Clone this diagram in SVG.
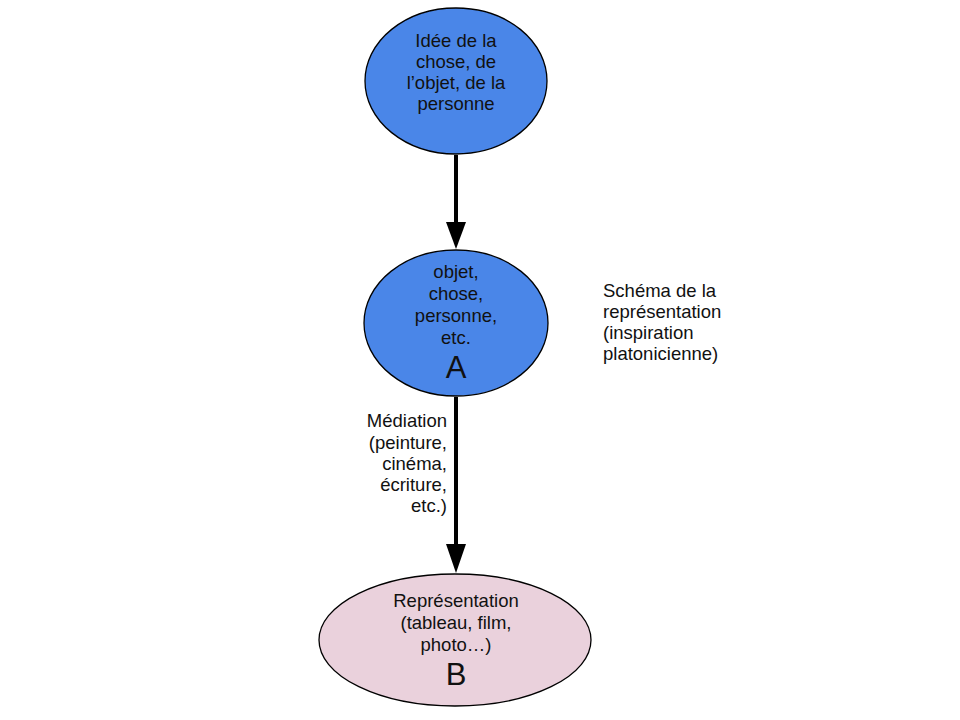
<svg xmlns="http://www.w3.org/2000/svg" width="960" height="720" viewBox="0 0 960 720">
<defs>
<style>
.t{font-family:"Liberation Sans",Arial,sans-serif;font-size:18.5px;fill:#111}
.c{text-anchor:middle}
.big{font-size:31px}
.blue{fill:#4a86e8;stroke:#000;stroke-width:1.3}
.pink{fill:#ead1dc;stroke:#000;stroke-width:1.3}
.edge{stroke:#000;stroke-width:4;fill:none}
.head{fill:#000}
</style>
</defs>
<rect width="960" height="720" fill="#fff"/>
<g id="connectors">
<line class="edge" x1="456" y1="155" x2="456" y2="226"/>
<path class="head" d="M446,222 L466,222 L456,249 Z"/>
<line class="edge" x1="456" y1="397" x2="456" y2="548"/>
<path class="head" d="M446,544 L466,544 L456,573 Z"/>
<text class="t" text-anchor="end" x="447" y="427">Médiation</text>
<text class="t" text-anchor="end" x="447" y="449">(peinture,</text>
<text class="t" text-anchor="end" x="447" y="470">cinéma,</text>
<text class="t" text-anchor="end" x="447" y="491">écriture,</text>
<text class="t" text-anchor="end" x="447" y="512">etc.)</text>
</g>
<g id="idee">
<ellipse class="blue" cx="456" cy="81" rx="91" ry="73"/>
<text class="t c" x="456" y="47">Idée de la</text>
<text class="t c" x="456" y="68">chose, de</text>
<text class="t c" x="456" y="89">l’objet, de la</text>
<text class="t c" x="456" y="110">personne</text>
</g>
<g id="A">
<ellipse class="blue" cx="456" cy="323" rx="92" ry="73"/>
<text class="t c" x="456" y="278">objet,</text>
<text class="t c" x="456" y="300">chose,</text>
<text class="t c" x="456" y="322">personne,</text>
<text class="t c" x="456" y="344">etc.</text>
<text class="t c big" x="456" y="378">A</text>
</g>
<g id="B">
<ellipse class="pink" cx="455" cy="640" rx="136" ry="66"/>
<text class="t c" x="456" y="607">Représentation</text>
<text class="t c" x="456" y="629">(tableau, film,</text>
<text class="t c" x="456" y="651">photo…)</text>
<text class="t c big" x="456" y="685">B</text>
</g>
<g id="note">
<text class="t" x="603" y="297">Schéma de la</text>
<text class="t" x="603" y="318">représentation</text>
<text class="t" x="603" y="339">(inspiration</text>
<text class="t" x="603" y="360">platonicienne)</text>
</g>
</svg>
